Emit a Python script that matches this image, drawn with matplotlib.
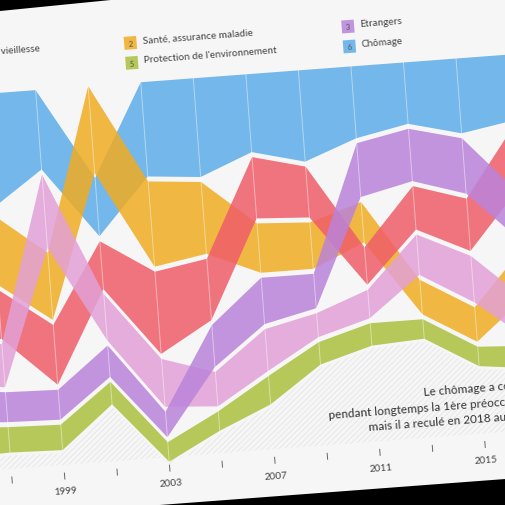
"""
Rangs des préoccupations (baromètre des préoccupations), vue légèrement pivotée.
Rubans empilés par rang, épaisseur = part des réponses.
"""
import numpy as np
import matplotlib
matplotlib.use("Agg")
import matplotlib.pyplot as plt
from matplotlib.patches import Rectangle, Polygon
from matplotlib.transforms import Affine2D

plt.rcParams["font.family"] = ["Lato", "DejaVu Sans"]
plt.rcParams["hatch.linewidth"] = 0.6

# ---- data (share of respondents, %) ----
YEARS = [1995, 1997, 1999, 2001, 2003, 2005, 2007, 2009, 2011, 2013, 2015, 2017]
AVS = [35, 33, 40, 32, 55, 41, 41, 34, 25, 29, 35, 42]
SANTE = [45, 47, 45, 58, 57, 48, 33, 31, 27, 23, 23, 32]
ETRANGERS = [22, 20, 20, 21, 17, 28, 31, 23, 36, 35, 37, 33]
ASILE = [27, 29, 49, 31, 32, 23, 28, 16, 19, 27, 31, 27]
ENVIRONNEMENT = [20, 17, 17, 15, 13, 13, 19, 15, 15, 13, 13, 15]
CHOMAGE = [75, 77, 53, 39, 63, 66, 52, 61, 48, 41, 50, 44]

NAMES = ["AVS, prévoyance vieillesse", "Santé, assurance maladie", "Etrangers",
         "Asile", "Protection de l'environnement", "Chômage"]
SERIES = [AVS, SANTE, ETRANGERS, ASILE, ENVIRONNEMENT, CHOMAGE]
COLORS = ["#ef5d69", "#f0ac22", "#bb83da", "#e3a1d7", "#abc03e", "#5dace8"]
RANK_2018 = [1, 2, 3, 4, 5, 6]

TICK_YEARS = list(range(1997, 2018, 2))
LABEL_YEARS = [1999, 2003, 2007, 2011, 2015]

NOTE = ("Le chômage a constitué\n"
        "pendant longtemps la 1ère préoccupation,\n"
        "mais il a reculé en 2018 au 6e rang")

# ---- layout ----
ANGLE = 4.3          # page tilt, degrees
PX_PER_YEAR = 26.35
SCALE = 1.5          # px per %
GAP = 5
Q_TOP = 386

fig = plt.figure(figsize=(5.06, 5.06), dpi=100)
fig.patch.set_facecolor("black")
ax = fig.add_axes([0, 0, 1, 1])
ax.axis("off")
x0 = 1997 - 12 / PX_PER_YEAR
ax.set_xlim(x0, x0 + 506 / PX_PER_YEAR)
ax.set_ylim(-26, 480)

tr = ax.transData + Affine2D().rotate_deg_around(12, 26, ANGLE)

# page (top edge a little steeper: the photo has some perspective)
ax.add_patch(Polygon([(1985, -37), (2025, -37), (2025, 484.8), (1985, 459.4)],
                     closed=True, transform=tr, facecolor="#f6f6f6",
                     edgecolor="none", zorder=0))

# stack by rank at each year
vals = np.array(SERIES, dtype=float)
top = np.zeros_like(vals)
bot = np.zeros_like(vals)
for i in range(len(YEARS)):
    cursor = Q_TOP
    for k in np.argsort(-vals[:, i], kind="stable"):
        top[k, i] = cursor
        bot[k, i] = cursor - vals[k, i] * SCALE
        cursor = bot[k, i] - GAP
stack_bottom = bot.min(axis=0)

# hatched note area under the stack
ax.fill_between(YEARS, 10, stack_bottom - 3, transform=tr, facecolor="none",
                edgecolor="#e6e6e6", hatch="//////", lw=0, zorder=1)

for k in [5, 1, 0, 3, 2, 4]:
    ax.fill_between(YEARS, bot[k], top[k], transform=tr, color=COLORS[k],
                    alpha=0.85, lw=0, zorder=2)

for yr, b in zip(YEARS, stack_bottom):
    ax.plot([yr, yr], [b, Q_TOP], transform=tr, color="white", lw=0.7,
            alpha=0.45, zorder=3)

# x axis
for yr in TICK_YEARS:
    ax.plot([yr, yr], [-4, 2], transform=tr, color="#666666", lw=0.7)
for yr in LABEL_YEARS:
    ax.text(yr, -16, str(yr), transform=tr, ha="center", va="center",
            rotation=ANGLE, rotation_mode="anchor", fontsize=7.2, color="#444444")

# legend (entry 4 sits off the left edge of the photo)
col_x = [1994.4, 2002.72, 2011.0]
row_q = [426, 406]
slots = {1: (0, 0), 2: (1, 0), 3: (2, 0), 5: (1, 1), 6: (2, 1)}
bw, bh = 12.5 / PX_PER_YEAR, 13
for k in range(len(NAMES)):
    if RANK_2018[k] not in slots:
        continue
    c, r = slots[RANK_2018[k]]
    bx, bq = col_x[c], row_q[r]
    ax.add_patch(Rectangle((bx - bw / 2, bq - bh / 2), bw, bh, transform=tr,
                           facecolor=COLORS[k], alpha=0.85, edgecolor="none"))
    ax.text(bx, bq, str(RANK_2018[k]), transform=tr, ha="center", va="center",
            rotation=ANGLE, rotation_mode="anchor", fontsize=5.5, color="#555555")
    ax.text(bx + 0.47, bq + 2, NAMES[k], transform=tr, ha="left", va="center",
            rotation=ANGLE, rotation_mode="anchor", fontsize=7.2, color="#444444")

# note
ax.text(2009.16, 41, NOTE, transform=tr, ha="left", va="center",
        multialignment="right", rotation=ANGLE, rotation_mode="anchor",
        fontsize=8.5, color="#333333", linespacing=1.45)

fig.savefig("out.png", dpi=100, facecolor=fig.get_facecolor())
